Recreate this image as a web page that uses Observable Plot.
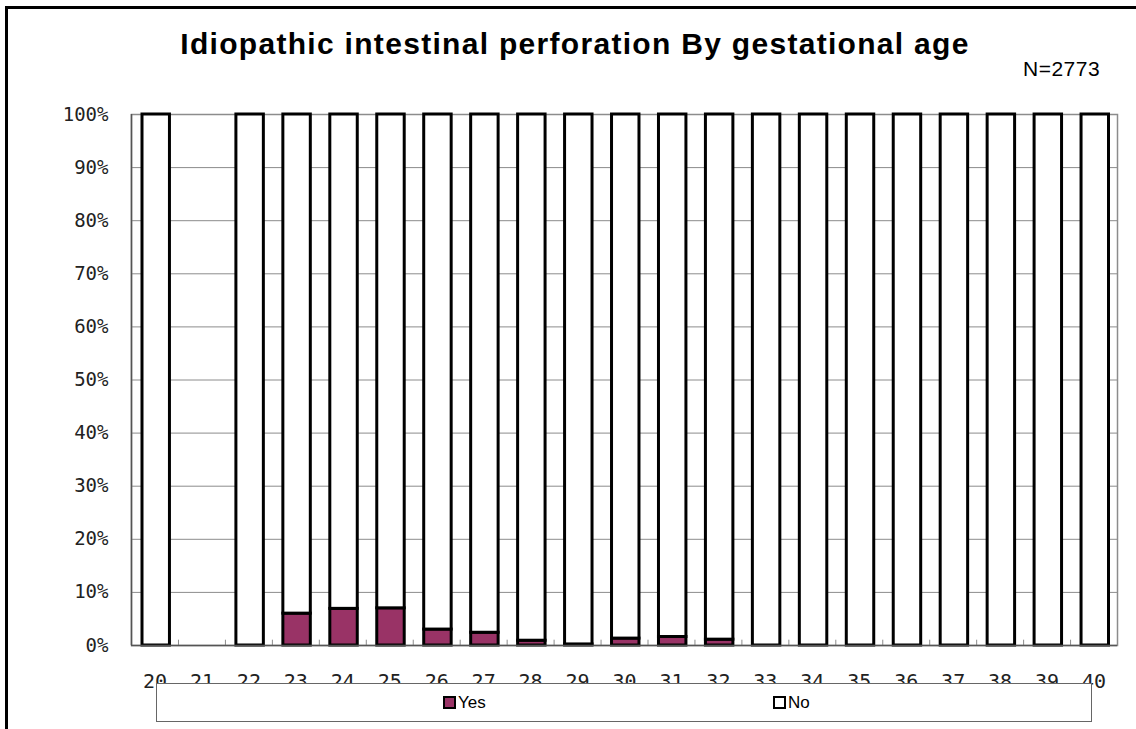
<!DOCTYPE html>
<html>
<head>
<meta charset="utf-8">
<script src="https://cdn.jsdelivr.net/npm/d3@7"></script>
<script src="https://cdn.jsdelivr.net/npm/@observablehq/plot@0.6"></script>
<style>
  html, body { margin: 0; padding: 0; background: #fff; }
  #wrap { position: relative; width: 1136px; height: 729px; overflow: hidden; background: #fff; }
  #wrap svg { position: absolute; left: 0; top: 0; }
  .frame-top { position: absolute; left: 5px; top: 6px; width: 1131px; height: 3px; background: #000; }
  .frame-left { position: absolute; left: 5px; top: 6px; width: 3px; height: 723px; background: #000; }
  #title { position: absolute; left: 0; width: 1150px; top: 27px; text-align: center; letter-spacing: 1.3px;
           font-family: "Liberation Sans", Arial, sans-serif; font-weight: bold; font-size: 30px; color: #000; }
  #ncount { position: absolute; left: 1023px; top: 57px; letter-spacing: 0.5px; font-family: "Liberation Sans", Arial, sans-serif; font-size: 21px; color: #000; }
  #legend { position: absolute; left: 156px; top: 683px; width: 934px; height: 37px; border: 1px solid #666; background: #fff; }
  .item { position: absolute; top: 9px; font-family: "Liberation Sans", Arial, sans-serif; font-size: 17px; line-height: 20px; color: #000; }
  .sw { display: inline-block; width: 9px; height: 9px; border: 2px solid #000; vertical-align: -1px; margin-right: 2px; }
</style>
</head>
<body>
<div id="wrap"></div>
<script>
const ages = ["20","21","22","23","24","25","26","27","28","29","30","31","32","33","34","35","36","37","38","39","40"];
// percentage "Yes" per gestational age (null = no infants at that age)
const yesPct = [0, null, 0, 6.0, 6.9, 7.0, 3.0, 2.4, 0.9, 0.2, 1.3, 1.6, 1.1, 0, 0, 0, 0, 0, 0, 0, 0];
const seriesNames = ["Yes", "No"];
const seriesColors = ["#993366", "#ffffff"];
const yTicks = [0, 10, 20, 30, 40, 50, 60, 70, 80, 90, 100];
const titleText = "Idiopathic intestinal perforation By gestational age";
const nText = "N=2773";

const rows = ages.map((a, i) => ({age: a, yes: yesPct[i]})).filter(d => d.yes !== null);
const yesRows = rows.map(d => ({age: d.age, y1: 0, y2: d.yes}));
const noRows = rows.map(d => ({age: d.age, y1: d.yes, y2: 100}));

const barStyle = {stroke: "#000", strokeWidth: 3, insetLeft: 11, insetRight: 8.5};

const chart = Plot.plot({
  width: 1136,
  height: 729,
  marginTop: 114,
  marginBottom: 84,
  marginLeft: 131,
  marginRight: 19,
  style: {background: "transparent"},
  x: {type: "band", domain: ages, padding: 0, round: false, label: null},
  y: {domain: [0, 100], label: null},
  marks: [
    Plot.ruleY(yTicks, {stroke: "#8c8c8c", strokeWidth: 1}),
    Plot.frame({stroke: "#8c8c8c", strokeWidth: 1.5}),
    Plot.ruleX(ages, {x: d => d, y1: 0, y2: 1, dx: 23.5, stroke: "#8c8c8c", strokeWidth: 1}),
    Plot.barY(yesRows, {x: "age", y1: "y1", y2: "y2", fill: seriesColors[0], ...barStyle}),
    Plot.barY(noRows, {x: "age", y1: "y1", y2: "y2", fill: seriesColors[1], ...barStyle}),
    Plot.ruleY([0], {stroke: "#555", strokeWidth: 1.5}),
    Plot.ruleX([ages[0]], {x: d => d, dx: -23.5, y1: 0, y2: 100, stroke: "#555", strokeWidth: 1.5}),
    Plot.axisY({ticks: yTicks, tickFormat: d => d + "%", tickSize: 0, tickPadding: 23,
                fontFamily: "DejaVu Sans Mono, Liberation Mono, monospace", fontSize: 19, fill: "#222", label: null}),
    Plot.axisX({tickSize: 0, tickPadding: 28, fontFamily: "DejaVu Sans Mono, Liberation Mono, monospace",
                fontSize: 20, fill: "#222", label: null})
  ]
});

const wrap = document.getElementById("wrap");
wrap.appendChild(chart);

const addDiv = (cls, id, text) => {
  const d = document.createElement("div");
  if (cls) d.className = cls;
  if (id) d.id = id;
  if (text) d.textContent = text;
  wrap.appendChild(d);
  return d;
};
addDiv("frame-top");
addDiv("frame-left");
addDiv(null, "title", titleText);
addDiv(null, "ncount", nText);

const legend = addDiv(null, "legend");
const legendLefts = [286, 616];
seriesNames.forEach((name, i) => {
  const it = document.createElement("div");
  it.className = "item";
  it.style.left = legendLefts[i] + "px";
  const sw = document.createElement("span");
  sw.className = "sw";
  sw.style.background = seriesColors[i];
  it.appendChild(sw);
  it.appendChild(document.createTextNode(name));
  legend.appendChild(it);
});
</script>
</body>
</html>
